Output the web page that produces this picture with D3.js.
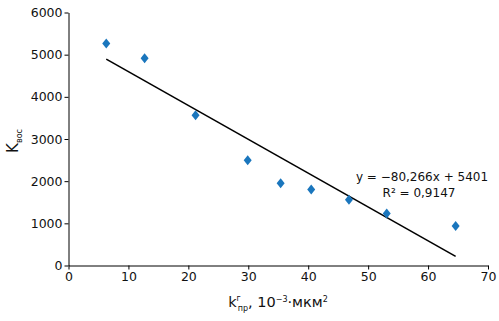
<!DOCTYPE html>
<html><head><meta charset="utf-8">
<script src="https://cdn.jsdelivr.net/npm/d3@7"></script>
<style>
body{margin:0;background:#fff;}
text{font-family:"DejaVu Sans",Verdana,sans-serif;fill:#111;}
</style></head>
<body><svg id="c" width="499" height="321"></svg>
<script>
const xValues = [6.3, 12.7, 21.2, 29.9, 35.4, 40.5, 46.8, 53.1, 64.6];
const yValues = [5265, 4915, 3565, 2497, 1952, 1801, 1557, 1232, 934];
const xTicks = [0, 10, 20, 30, 40, 50, 60, 70];
const yTicks = [0, 1000, 2000, 3000, 4000, 5000, 6000];
const slope = -80.266, intercept = 5401;
const eqText = "y = −80,266x + 5401";
const r2Text = "R² = 0,9147";

const svg = d3.select("#c");
const x = d3.scaleLinear().domain([0, 70]).range([68.5, 488]);
const y = d3.scaleLinear().domain([0, 6000]).range([265.5, 12.5]);

const xAxis = svg.append("g").attr("transform", "translate(0,265.5)")
  .call(d3.axisBottom(x).tickValues(xTicks).tickFormat(d3.format("d")).tickSize(4).tickSizeOuter(0).tickPadding(3));
const yAxis = svg.append("g").attr("transform", "translate(68.5,0)")
  .call(d3.axisLeft(y).tickValues(yTicks).tickFormat(d3.format("d")).tickSize(4).tickSizeOuter(0).tickPadding(2));
[xAxis, yAxis].forEach(a => {
  a.selectAll("path,line").attr("stroke", "#000");
  a.selectAll("text").style("font-size", "12.5px").attr("fill", "#111");
});

// trend line
const x0 = d3.min(xValues), x1 = d3.max(xValues);
svg.append("line")
  .attr("x1", x(x0)).attr("y1", y(intercept + slope * x0))
  .attr("x2", x(x1)).attr("y2", y(intercept + slope * x1))
  .attr("stroke", "#000").attr("stroke-width", 1.6);

// markers
const diamond = "M0,-5L4,0L0,5L-4,0Z";
svg.append("g").selectAll("path").data(xValues).join("path")
  .attr("d", diamond)
  .attr("transform", (d, i) => `translate(${x(d)},${y(yValues[i])})`)
  .attr("fill", "#1a76bd");

// equation
svg.append("text").attr("x", 422).attr("y", 181).attr("text-anchor", "middle")
  .style("font-size", "12px").text(eqText);
svg.append("text").attr("x", 419).attr("y", 197).attr("text-anchor", "middle")
  .style("font-size", "12px").text(r2Text);

// y label
const yl = svg.append("text").attr("transform", "translate(18,141) rotate(-90)")
  .attr("text-anchor", "middle").style("font-size", "15px");
yl.append("tspan").text("K");
yl.append("tspan").attr("dy", 4).style("font-size", "8px").text("вос");

// x label
const xl = svg.append("text").attr("x", 278).attr("y", 307).attr("text-anchor", "middle")
  .style("font-size", "14.5px");
xl.append("tspan").text("k");
xl.append("tspan").attr("dy", -6).style("font-size", "8px").text("г");
xl.append("tspan").attr("dy", 10).attr("dx", -3).style("font-size", "8px").text("пр");
xl.append("tspan").attr("dy", -4).text(", 10");
xl.append("tspan").attr("dy", -5).style("font-size", "8px").text("−3");
xl.append("tspan").attr("dy", 5).text("·мкм");
xl.append("tspan").attr("dy", -5).style("font-size", "8px").text("2");
</script></body></html>
